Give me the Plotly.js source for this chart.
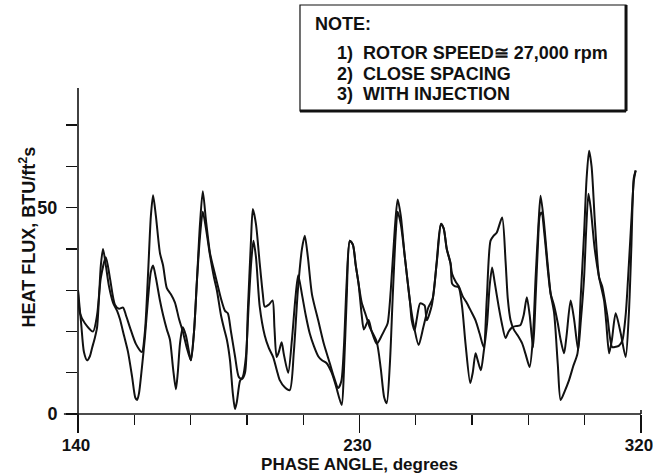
<!DOCTYPE html>
<html>
<head>
<meta charset="utf-8">
<script src="https://cdn.plot.ly/plotly-3.0.1.min.js"></script>
<style>
  html, body { margin: 0; padding: 0; background: #fff; }
  #chart { width: 653px; height: 474px; }
</style>
</head>
<body>
<div id="chart"></div>
<script>
// Heat flux traces vs. phase angle (two overlaid records)
const phase1 = [140.0,140.6,142.2,144.8,146.1,147.3,148.9,150.2,151.8,153.1,
  154.4,155.3,156.6,158.5,160.4,161.4,162.4,163.3,164.0,164.9,
  166.2,167.2,168.4,169.7,171.0,172.3,173.5,174.8,176.1,177.1,
  178.0,179.0,179.9,180.9,182.2,183.1,184.4,185.7,187.0,187.9,
  188.9,190.2,191.4,192.4,193.4,194.3,195.3,195.9,196.9,198.1,
  199.1,199.7,201.0,202.2,202.8,203.5,204.2,205.1,205.8,207.2,
  208.4,209.5,210.4,211.6,212.8,214.1,215.4,216.8,218.0,219.5,
  221.1,222.4,224.3,225.0,225.9,226.9,227.9,228.8,229.7,230.7,
  232.0,233.3,235.5,236.8,237.9,238.7,239.7,240.6,241.6,242.2,
  243.2,244.5,246.1,247.6,248.9,250.4,252.0,253.4,254.7,256.0,
  256.9,257.9,259.1,259.6,260.8,261.7,263.0,264.4,265.6,267.1,
  268.4,269.7,270.7,271.9,272.9,273.9,275.6,276.7,277.4,278.3,
  279.3,280.6,282.0,283.1,284.4,285.4,286.3,287.3,287.9,288.9,
  290.2,291.1,292.2,293.4,294.3,295.6,297.0,298.3,299.7,300.7,
  301.8,302.6,303.4,304.2,305.3,306.6,307.6,309.2,310.8,311.9,
  312.9,314.0,315.1,316.1,317.0,317.7,318.3];
const flux1 = [30,24.5,22,20,24,33,38,33,26.5,25.5,
  25.8,24,21,17,15,20,34,48,53,48,
  39,36,30.5,29,27,23,20,16,13,20,
  32,46,54,47,39,36,32,28,25,24.4,
  20,14,9,8.5,10,25,42,49.7,46,36.5,
  29,26,26.5,27.5,21,13.8,15,17.4,14.5,10,
  18,28,33.6,29,24,19.5,16.5,14,13,12.3,
  10,7,2.2,10,28,42,41,36,31.6,27,
  24,21,17.5,11,4,2.6,12,28,44,49,
  46,38,27.5,20.5,16.7,21,25.8,28,37,46,
  45,40,36.5,34,32,31,28.5,26.8,25,22.7,
  19.5,16.2,28,42,43.2,44,47.6,37,28,22.7,
  20.5,19,17.1,14.5,11.4,18,33,47,52.9,47,
  36,29.2,24.6,12,3.4,5.5,8.2,11.5,14.7,28,
  43.7,57,63.8,60,46,33.1,30.9,24,16.2,16.3,
  16.5,17.7,24,36,48,56.5,59];

const phase2 = [140.0,141.0,141.9,142.9,143.8,144.5,145.4,146.1,146.7,147.3,
  148.0,148.9,149.9,151.2,152.5,153.4,154.7,156.0,157.3,158.3,
  158.9,159.5,160.4,161.4,162.4,163.3,164.0,164.9,166.2,167.2,
  168.4,169.4,170.4,171.3,171.9,172.6,173.5,174.5,175.5,176.1,
  177.1,178.0,179.0,179.9,180.9,182.2,183.5,184.4,185.7,186.6,
  187.6,188.6,189.5,190.2,190.8,191.8,192.7,193.7,194.6,195.4,
  196.1,196.9,198.1,199.7,201.0,202.4,203.6,204.5,206.1,207.7,
  209.0,210.3,211.6,212.5,213.5,214.8,216.8,218.6,220.5,221.8,
  223.2,224.2,225.0,225.9,226.9,227.9,228.8,229.7,230.7,231.4,
  232.9,233.9,235.5,237.1,238.1,239.0,240.0,241.3,242.2,243.2,
  244.5,246.1,246.7,247.6,248.3,249.4,250.8,251.5,253.1,254.7,
  256.1,256.9,257.9,259.1,259.6,260.4,261.7,262.8,263.9,265.4,
  266.2,267.1,267.8,268.8,269.7,270.8,271.6,272.4,273.2,274.5,
  275.5,276.7,277.7,278.8,279.9,281.4,282.5,283.5,284.4,285.5,
  286.3,287.1,287.6,288.2,289.2,290.2,291.1,292.2,293.4,294.3,
  295.4,296.2,297.5,298.6,299.9,300.7,301.8,302.5,303.2,303.9,
  305.2,306.6,308.2,308.9,309.8,310.7,311.9,313.5,315.1,316.1,
  316.9,317.7,318.3];
const flux2 = [30,22,15,13,14,16,18.5,21,28,36,
  40,36,31,27,25,23,19,15,9,4,
  3.4,5,11,18.6,28,34.5,36,33,27.5,24,
  20.5,18,11,6,10,17,21,19,15,13,
  20,32,43,49,45,38.5,33,30,24,21,
  18,13,5,1.2,3,8,9,14,27,37,
  42,38,26,19,16,13.8,10.5,8.2,6.5,5.8,
  15,30,40,43.2,38,29,22.7,17,12.3,9,
  6.3,8,16,32,42,41,36,31.6,24,20.5,
  22.8,20,17,19,20.5,22,30,45,52,48,
  38,27.5,22.7,20.3,23,26.8,26.3,22.7,26.3,36.7,
  46.1,45,40,36.5,31.6,31,30.7,26,17,7.5,
  10,14.7,13,10.6,15,22,31,35.5,32,26,
  22,18.4,20,21,21.3,21.5,24,28.3,24,16.2,
  28,42,48,48.8,43,35,29.2,26.3,22,18,
  14.7,19,27.5,23,15.5,22,33,45,53.4,50,
  40,33.1,27.5,22,14.7,18,24.4,19.6,13.8,24,
  40,57.2,59];

// Axis ranges and ticks: labelled majors plus unlabelled minor steps
const xRange = [140, 320];
const yRange = [0, 79];
const xTickVals = [140, 230, 320];
const xMinorStep = 18;
const yTickVals = [0, 50];
const yMinorStep = 10;

// Titles and note box lines
const xTitle = 'PHASE ANGLE, degrees';
const yTitle = 'HEAT FLUX, BTU/ft<sup>2</sup>s';
const noteTitle = 'NOTE:';
const noteLines = [
  '1)\u00a0 ROTOR SPEED\u2245 27,000 rpm',
  '2)\u00a0 CLOSE SPACING',
  '3)\u00a0 WITH INJECTION'
];

const ink = '#111';
const fontFamily = '"Liberation Sans", Arial, Helvetica, sans-serif';
const boldFont = (size) => ({family: fontFamily, size: size, color: ink, weight: 'bold'});

function curve(x, y) {
  return {
    x: x, y: y, type: 'scatter', mode: 'lines',
    line: {color: ink, width: 2, shape: 'spline', smoothing: 0.7},
    hoverinfo: 'skip'
  };
}

const data = [curve(phase1, flux1), curve(phase2, flux2)];

const axisLine = {color: ink, width: 1.6};
const shapes = [
  // axis lines with overhang past the corner
  {type: 'line', xref: 'paper', yref: 'paper', x0: -0.025, x1: 1, y0: 0, y1: 0, line: axisLine},
  {type: 'line', xref: 'paper', yref: 'paper', x0: 0, x1: 0, y0: -0.055, y1: 1, line: axisLine},
  // short upward stub closing the x axis
  {type: 'line', xref: 'paper', yref: 'paper', x0: 1, x1: 1, y0: 0.012, y1: 0, line: axisLine},
  // note frame with heavier right and bottom edges
  {type: 'rect', xref: 'paper', yref: 'paper', x0: 0.3943, x1: 0.9734, y0: 0.9294, y1: 1.2546,
   line: {color: ink, width: 1.2}, fillcolor: 'rgba(0,0,0,0)'},
  {type: 'line', xref: 'paper', yref: 'paper', x0: 0.9734, x1: 0.9734, y0: 0.9294, y1: 1.2546,
   line: {color: ink, width: 3}},
  {type: 'line', xref: 'paper', yref: 'paper', x0: 0.3943, x1: 0.9734, y0: 0.9294, y1: 0.9294,
   line: {color: ink, width: 3}}
];

const annotations = [
  {text: yTitle, xref: 'paper', yref: 'paper', x: -0.0888, y: 0.5414, textangle: -90,
   xanchor: 'center', yanchor: 'middle', showarrow: false, font: boldFont(18)},
  {text: noteTitle, xref: 'paper', yref: 'paper', x: 0.4174, y: 1.1948,
   xanchor: 'left', yanchor: 'middle', showarrow: false, font: boldFont(18)}
].concat(noteLines.map((t, i) => ({
  text: t, xref: 'paper', yref: 'paper', x: 0.4565, y: [1.1074, 1.0429, 0.9816][i],
  xanchor: 'left', yanchor: 'middle', showarrow: false, font: boldFont(18)
})));

const layout = {
  width: 653, height: 474,
  margin: {l: 78, r: 12, t: 88, b: 60},
  paper_bgcolor: '#fff', plot_bgcolor: '#fff',
  showlegend: false,
  font: {family: fontFamily, color: ink, size: 17, weight: 'bold'},
  xaxis: {
    range: xRange, showgrid: false, zeroline: false, showline: false,
    tickmode: 'array', tickvals: xTickVals,
    ticks: 'outside', ticklen: 18, tickwidth: 1.5, tickcolor: ink,
    minor: {tick0: xRange[0], dtick: xMinorStep, ticks: 'outside', ticklen: 10,
            tickwidth: 1.4, tickcolor: ink, showgrid: false},
    ticklabeloverflow: 'allow', ticklabelshift: -2, ticklabelstandoff: -2,
    tickfont: boldFont(17),
    title: {text: xTitle, standoff: 5, font: boldFont(17)},
    fixedrange: true
  },
  yaxis: {
    range: yRange, showgrid: false, zeroline: false, showline: false,
    tickmode: 'array', tickvals: yTickVals,
    ticks: 'outside', ticklen: 11, tickwidth: 1.4, tickcolor: ink,
    minor: {tick0: yRange[0], dtick: yMinorStep, ticks: 'outside', ticklen: 11,
            tickwidth: 1.4, tickcolor: ink, showgrid: false},
    ticklabelstandoff: 5,
    tickfont: boldFont(18),
    fixedrange: true
  },
  shapes: shapes,
  annotations: annotations
};

// Tick marks drawn as paper-space lines, used only if the axis tick paths are absent
function tickShapes() {
  const out = [];
  const xFrac = (v) => (v - xRange[0]) / (xRange[1] - xRange[0]);
  const yFrac = (v) => (v - yRange[0]) / (yRange[1] - yRange[0]);
  for (let v = xRange[0]; v <= xRange[1] + 1e-9; v += xMinorStep) {
    const major = xTickVals.indexOf(v) >= 0;
    out.push({type: 'line', xref: 'paper', yref: 'paper', x0: xFrac(v), x1: xFrac(v),
              y0: 0, y1: -(major ? 18 : 10) / 326, line: {color: ink, width: 1.4}});
  }
  for (let v = yRange[0]; v <= yRange[1]; v += yMinorStep) {
    out.push({type: 'line', xref: 'paper', yref: 'paper', x0: 0, x1: -11 / 563,
              y0: yFrac(v), y1: yFrac(v), line: {color: ink, width: 1.4}});
  }
  return out;
}

Plotly.newPlot('chart', data, layout, {displayModeBar: false, staticPlot: true}).then(function (gd) {
  const paths = Array.from(gd.querySelectorAll('path.xtick, path.ytick'))
    .filter(p => (p.getAttribute('d') || '').indexOf('NaN') < 0);
  if (paths.length === 0) {
    return Plotly.relayout(gd, {shapes: shapes.concat(tickShapes())});
  }
});
</script>
</body>
</html>
